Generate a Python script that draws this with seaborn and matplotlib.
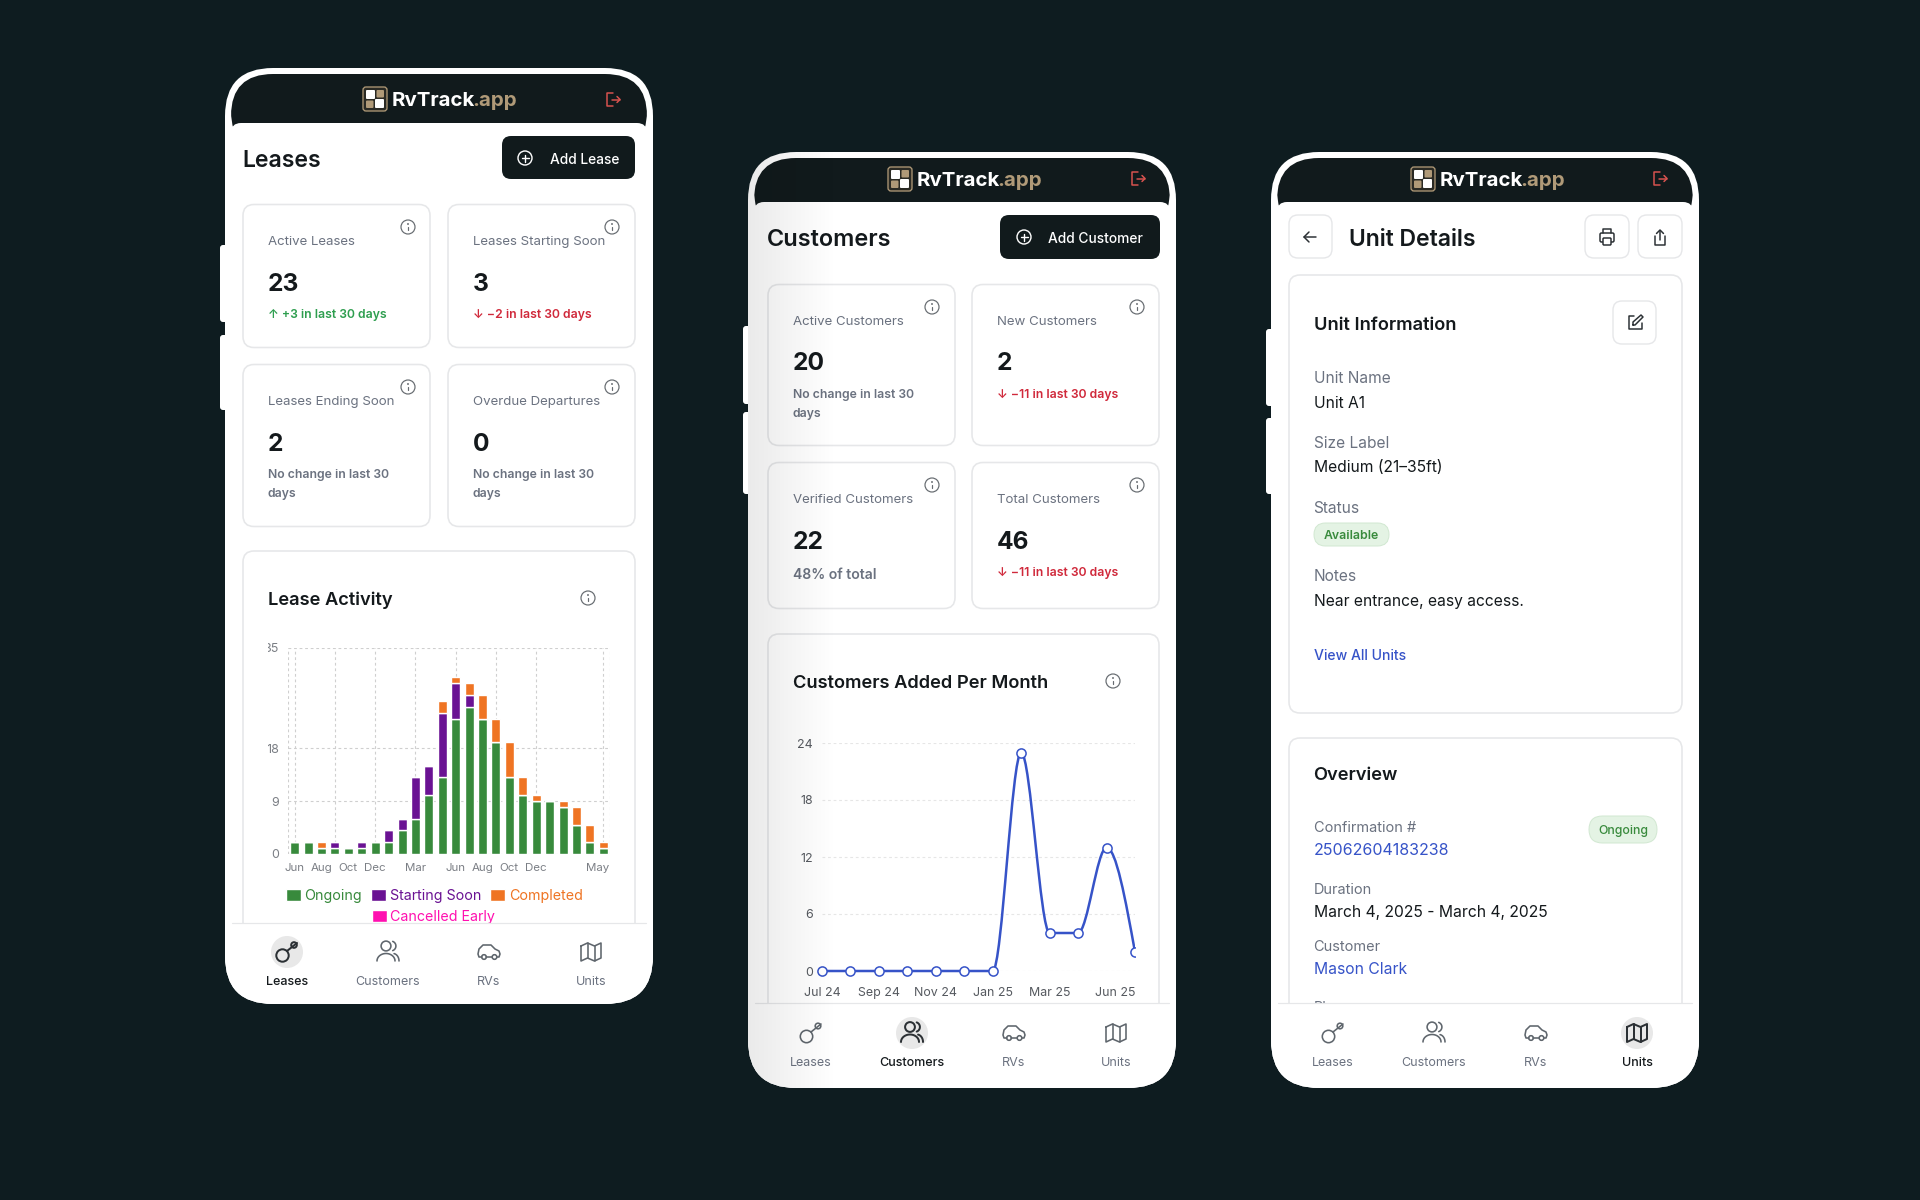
import numpy as np
import matplotlib
matplotlib.use("Agg")
import matplotlib.pyplot as plt
import matplotlib.transforms as mtransforms
from matplotlib.patches import FancyBboxPatch, Rectangle, Circle, Patch, PathPatch
from matplotlib.path import Path
import seaborn as sns

# ---------- chart data ----------
lease_months = ["Jun 23","Jul 23","Aug 23","Sep 23","Oct 23","Nov 23","Dec 23","Jan 24","Feb 24","Mar 24","Apr 24","May 24",
                "Jun 24","Jul 24","Aug 24","Sep 24","Oct 24","Nov 24","Dec 24","Jan 25","Feb 25","Mar 25","Apr 25","May 25"]
ongoing  = [2,2,1,1,1,1,2,2,4,6,10,13,23,25,23,19,13,10,9,9,8,5,2,1]
starting = [0,0,0,1,0,1,0,2,2,7,5,11,6,2,0,0,0,0,0,0,0,0,0,0]
completed= [0,0,1,0,0,0,0,0,0,0,0,2,1,2,4,4,6,3,1,0,1,3,3,1]
lease_tick_idx = [0,2,4,6,9,12,14,16,18,23]
lease_tick_lab = ["Jun","Aug","Oct","Dec","Mar","Jun","Aug","Oct","Dec","May"]
lease_grid_idx = [-0.5,0,3,6,9,12,15,18,23,23.5]
lease_yticks = [0,9,18,35]

cust_idx = list(range(12))
cust_added = [0,0,0,0,0,0,0,23,4,4,13,2]
cust_tick_idx = [0,2,4,6,8,11]
cust_tick_lab = ["Jul 24","Sep 24","Nov 24","Jan 25","Mar 25","Jun 25"]
cust_yticks = [0,6,12,18,24]

# ---------- palette ----------
BG="#0e1c20"; HEAD="#111a1c"; TAN="#b09a78"; GRAY="#6b7280"; DARK="#14191c"; EDGE="#e6e7e9"
GREEN="#388a3c"; PURPLE="#6a1293"; ORANGE="#ef7423"; PINK="#ff10b0"; BLUE="#3653c8"
UP="#2e9e4f"; DOWN="#d0293b"; LOGOUT="#d9534f"

sns.set_theme(style="white")
plt.rcParams["font.family"]=["Inter","DejaVu Sans"]

fig=plt.figure(figsize=(19.2,12),dpi=100,facecolor=BG)
def new_axes(z):
    a=fig.add_axes([0,0,1,1],zorder=z); a.set_xlim(0,1920); a.set_ylim(1200,0); a.axis("off"); a.patch.set_alpha(0); return a
bg=new_axes(0); top=new_axes(5)
renderer=fig.canvas.get_renderer()

def rr(ax,x0,y0,x1,y1,r,fc="white",ec="none",lw=0,z=1):
    p=FancyBboxPatch((x0,y0),x1-x0,y1-y0,boxstyle=f"round,pad=0,rounding_size={r}",fc=fc,ec=ec,lw=lw*.72,zorder=z)
    ax.add_patch(p); return p
def T(ax,x,y,s,px,c=DARK,w="normal",ha="left",z=4):
    return ax.text(x,y,s,fontsize=px*.72,color=c,fontweight=w,ha=ha,va="baseline",zorder=z)
def L(ax,xs,ys,c,lw=1.5,z=4):
    ax.plot(xs,ys,color=c,lw=lw*.72,solid_capstyle="round",solid_joinstyle="round",zorder=z)
def arc(ax,cx,cy,rx,ry,a0,a1,c,lw=1.5,z=4):
    t=np.radians(np.linspace(a0,a1,40)); L(ax,cx+rx*np.cos(t),cy+ry*np.sin(t),c,lw,z)
def circ(ax,cx,cy,r,c,lw=1.5,fc="none",z=4):
    ax.add_patch(Circle((cx,cy),r,fc=fc,ec=c,lw=lw*.72,zorder=z))

def info(ax,cx,cy,c="#666b70"):
    circ(ax,cx,cy,7,c,1.2); L(ax,[cx,cx],[cy-.5,cy+3],c,1.2); circ(ax,cx,cy-3,.5,c,.8,fc=c)
def plus_circle(ax,cx,cy):
    circ(ax,cx,cy,7,"white",1.4); L(ax,[cx-3.5,cx+3.5],[cy,cy],"white",1.4); L(ax,[cx,cx],[cy-3.5,cy+3.5],"white",1.4)
def key(ax,cx,cy,c,lw):
    circ(ax,cx-4.5,cy+3.5,6.2,c,lw); L(ax,[cx,cx+10],[cy-1,cy-9],c,lw); circ(ax,cx+7,cy-7,2.8,c,lw)
def users(ax,cx,cy,c,lw):
    circ(ax,cx-2,cy-6,4.9,c,lw); arc(ax,cx-2,cy+9,9,7.5,180,360,c,lw)
    arc(ax,cx+3,cy-6,4.9,4.9,-70,70,c,lw); arc(ax,cx+5,cy+9,6,7.5,280,360,c,lw)
def car(ax,cx,cy,c,lw):
    L(ax,[cx-7,cx-10,cx-11,cx-10,cx-6,cx+2,cx+6,cx+10,cx+11,cx+10,cx+8],[cy+5,cy+5,cy+2,cy-3,cy-7,cy-7,cy-3,cy-1,cy+2,cy+5,cy+5],c,lw)
    L(ax,[cx-3,cx+3],[cy+5,cy+5],c,lw); circ(ax,cx-5,cy+5,2.3,c,lw); circ(ax,cx+5.5,cy+5,2.3,c,lw)
def umap(ax,cx,cy,c,lw):
    L(ax,[cx-10,cx-3.5,cx+3.5,cx+10,cx+10,cx+3.5,cx-3.5,cx-10,cx-10],[cy-6,cy-9,cy-6,cy-9,cy+6,cy+9,cy+6,cy+9,cy-6],c,lw)
    L(ax,[cx-3.5,cx-3.5],[cy-9,cy+6],c,lw); L(ax,[cx+3.5,cx+3.5],[cy-6,cy+9],c,lw)
def logout(ax,cx,cy):
    L(ax,[cx-1,cx-6.5,cx-6.5,cx-1],[cy-6.5,cy-6.5,cy+6.5,cy+6.5],LOGOUT,1.5)
    L(ax,[cx-2,cx+6.5],[cy,cy],LOGOUT,1.5); L(ax,[cx+3.5,cx+6.5,cx+3.5],[cy-3,cy,cy+3],LOGOUT,1.5)

def logo(ax,x,y):
    s=24
    rr(ax,x,y,x+s,y+s,3,fc="#2a2a24",ec=TAN,lw=1.3,z=3)
    rr(ax,x+3,y+3,x+12,y+12,1,fc="white",z=4); rr(ax,x+12,y+12,x+21,y+21,1,fc="white",z=4)
    rr(ax,x+13.5,y+3,x+21,y+10.5,1,fc=TAN,z=4); rr(ax,x+3,y+13.5,x+10.5,y+21,1,fc=TAN,z=4)
    t=T(ax,x+29,y+19.2,"RvTrack",20.5,"white","bold")
    e=t.get_window_extent(renderer)
    T(ax,e.x1-3.5,y+19.2,".app",20.5,TAN,"bold")

def phone(x0,y0,x1,y1,hy,nav_y,btns,inner):
    for a,b in btns: rr(bg,x0-5,a,x0+4,b,3,z=0.5)
    outer=rr(bg,x0,y0,x1,y1,48,z=1)
    rr(bg,x0+inner,y0+inner,x1-inner,hy+30,42,fc=HEAD,z=1.2)
    rr(bg,x0+inner,hy,x1-inner,hy+60,10,z=1.3)
    bg.add_patch(Rectangle((x0+1,hy+14),x1-x0-2,40,fc="white",ec="none",zorder=1.4))
    nav=Rectangle((x0,nav_y),x1-x0,y1-nav_y,fc="white",ec="none",zorder=1); top.add_patch(nav); nav.set_clip_path(outer)
    L(top,[x0+inner+1,x1-inner-1],[nav_y,nav_y],"#e6e7e9",1.2,z=2)
    return outer

def nav_items(xs,cy,ly,active):
    names=["Leases","Customers","RVs","Units"]; fn=[key,users,car,umap]
    for i,(x,n,f) in enumerate(zip(xs,names,fn)):
        on=i==active
        if on: top.add_patch(Circle((x,cy),16,fc="#e8e8e8",ec="none",zorder=3))
        f(top,x,cy,"#2b3034" if on else "#5f666d",2.0 if on else 1.6)
        T(top,x,ly,n,12.5,DARK if on else GRAY,"medium" if on else "normal",ha="center")

def stat(x0,y0,x1,y1,label,val,lines,col,lb,vb,db,ix,iy,w="semibold",dsize=12.2):
    rr(bg,x0,y0,x1,y1,11,ec=EDGE,lw=1.6,z=2)
    info(bg,ix,iy)
    T(bg,x0+24.7,lb,label,13.25,GRAY); T(bg,x0+24.7,vb,val,24.5,DARK,"bold")
    for i,s in enumerate(lines): T(bg,x0+24.7,db+i*18.5,s,dsize,col,w)

# ---------- phones ----------
p1=phone(225,68,653,1004,123,923,[(245,322),(335,410)],6)
p2=phone(748,152,1176,1088,202,1003,[(326,404),(412,494)],6)
p3=phone(1271,152,1699,1088,202,1003,[(329,406),(418,494)],6)

H2=18.3
# --- Phone 1 ---
logo(bg,363,87); logout(bg,613.5,99.5)
T(bg,242.5,167,"Leases",23,DARK,"semibold")
rr(bg,502,136,635,179,9,fc=HEAD,z=3); plus_circle(bg,525,158); T(bg,550,164,"Add Lease",13.8,"white","medium")
nc="No change in last 30"
stat(243,204.5,430,347.5,"Active Leases","23",["↑ +3 in last 30 days"],UP,245,291,318,408,227)
stat(448,204.5,635,347.5,"Leases Starting Soon","3",["↓ −2 in last 30 days"],DOWN,245,291,318,612,227)
stat(243,364.5,430,526.5,"Leases Ending Soon","2",[nc,"days"],GRAY,405,451,478,408,387)
stat(448,364.5,635,526.5,"Overdue Departures","0",[nc,"days"],GRAY,405,451,478,612,387)
rr(bg,243,551,635,990,11,ec=EDGE,lw=1.6,z=2)
T(bg,268,605,"Lease Activity",H2,DARK,"semibold"); info(bg,588,598)
nav_items([287,388,489,591],952,985,0)

# --- Phone 2 ---
logo(bg,888,167); logout(bg,1138.5,178.5)
T(bg,767,246,"Customers",23.5,DARK,"semibold")
rr(bg,1000,215,1160,259,9,fc=HEAD,z=3); plus_circle(bg,1024,237); T(bg,1048.5,243,"Add Customer",13.8,"white","medium")
stat(768,284.5,955,445.5,"Active Customers","20",[nc,"days"],GRAY,325,370,398,932,307)
stat(972,284.5,1159,445.5,"New Customers","2",["↓ −11 in last 30 days"],DOWN,325,370,398,1137,307)
stat(768,462.5,955,608.5,"Verified Customers","22",["48% of total"],GRAY,503,549,579,932,485,dsize=14)
stat(972,462.5,1159,608.5,"Total Customers","46",["↓ −11 in last 30 days"],DOWN,503,549,576,1137,485)
rr(bg,768,634,1159,1080,11,ec=EDGE,lw=1.6,z=2)
T(bg,793,688,"Customers Added Per Month",H2,DARK,"semibold"); info(bg,1113,681)
nav_items([811,912,1014,1116],1033,1066,1)

# --- Phone 3 ---
logo(bg,1411,167); logout(bg,1660.5,178.5)
for a,b in [(1289,1332),(1585,1629),(1638,1682)]: rr(bg,a,215,b,258,9,ec=EDGE,lw=1.4,z=3)
L(bg,[1304,1316],[237,237],"#2b3034",1.5); L(bg,[1309,1304,1309],[232,237,242],"#2b3034",1.5)
T(bg,1349,246,"Unit Details",23,DARK,"semibold")
c="#2b3034"
rr(bg,1600,233,1614,242,1.5,fc="white",ec=c,lw=1.5,z=4); L(bg,[1603,1603,1611,1611],[233,229,229,233],c,1.5); rr(bg,1603,238,1611,245,1,fc="white",ec=c,lw=1.5,z=5)
L(bg,[1655,1655,1665,1665],[236,245,245,236],c,1.5); L(bg,[1660,1660],[231,240],c,1.5); L(bg,[1656.5,1660,1663.5],[233.5,230,233.5],c,1.5)
rr(bg,1289,275,1682,713,11,ec=EDGE,lw=1.6,z=2)
T(bg,1313.5,330,"Unit Information",H2,DARK,"semibold")
rr(bg,1613,301,1656,344,9,ec=EDGE,lw=1.4,z=3)
L(bg,[1634,1629,1629,1642,1642],[316,316,329,329,323],c,1.5); L(bg,[1633,1633,1641,1643,1635,1633],[325,322,315,317,325,325],c,1.5)
def field(lab,val,lb,vb,col=DARK,ls=15.5,vs=15.6):
    T(bg,1313.5,lb,lab,ls,GRAY); T(bg,1313.5,vb,val,vs,col)
field("Unit Name","Unit A1",383,408)
field("Size Label","Medium (21–35ft)",448,472)
T(bg,1313.5,513,"Status",15.5,GRAY)
rr(bg,1314,523,1389,546,11.5,fc="#e4f3e4",ec="#d2e8d2",lw=1,z=3); T(bg,1351.5,539,"Available",12.3,GREEN,"semibold",ha="center")
field("Notes","Near entrance, easy access.",581,606)
T(bg,1313.5,660,"View All Units",14,BLUE,"medium")
rr(bg,1289,738,1682,1080,11,ec=EDGE,lw=1.6,z=2)
T(bg,1313.5,780,"Overview",H2,DARK,"semibold")
field("Confirmation #","25062604183238",832,855,BLUE,14.5,16)
rr(bg,1589,816,1657,843,13.5,fc="#e4f3e4",ec="#d2e8d2",lw=1,z=3); T(bg,1623,834,"Ongoing",12.3,GREEN,"medium",ha="center")
field("Duration","March 4, 2025 - March 4, 2025",894,917,DARK,14.5,15.7)
field("Customer","Mason Clark",951,974,BLUE,14.5,15.7)
T(bg,1313.5,1012,"Phone",14.5,GRAY)
nav_items([1333,1434,1536,1637],1033,1066,3)

# ---------- charts ----------
def px_axes(x0,y0,x1,y1,z=2):
    a=fig.add_axes([x0/1920,1-y1/1200,(x1-x0)/1920,(y1-y0)/1200],zorder=z); a.patch.set_alpha(0); return a
def shift(lbl,px):
    lbl.set_transform(lbl.get_transform()+mtransforms.ScaledTranslation(px/100,0,fig.dpi_scale_trans))

# Lease activity
a1=px_axes(288,648,610,854)
bot2=np.array(ongoing); bot3=bot2+np.array(starting)
for vals,bot,col in [(ongoing,None,GREEN),(starting,bot2,PURPLE),(completed,bot3,ORANGE)]:
    kw={} if bot is None else {"bottom":bot}
    sns.barplot(x=lease_months,y=vals,color=col,saturation=1,width=.67,errorbar=None,ax=a1,zorder=3,**kw)
a1.set_xlim(-.5,23.5); a1.set_ylim(0,35)
a1.set_xlabel(""); a1.set_ylabel("")
a1.set_xticks(lease_tick_idx); a1.set_xticklabels(lease_tick_lab)
a1.xaxis.remove_overlapping_locs=False
a1.set_xticks(lease_grid_idx,minor=True); a1.set_yticks(lease_yticks)
a1.set_axisbelow(True)
a1.grid(False); a1.grid(True,which="minor",axis="x",color="#cfcfcf",ls=(0,(2.5,2.5)),lw=.8)
a1.grid(True,which="major",axis="y",color="#cfcfcf",ls=(0,(2.5,2.5)),lw=.8)
a1.tick_params(axis="both",which="both",length=0,labelsize=11.5*.72,labelcolor="#7b7f85")
a1.tick_params(axis="x",pad=6.2); a1.tick_params(axis="y",pad=6.5,labelsize=12.5*.72)
for s in a1.spines.values(): s.set_visible(False)
shift(a1.get_xticklabels()[-1],-5.3)
clipbox=Rectangle((268,600),60,300,transform=bg.transData)
for lb in a1.get_yticklabels(): lb.set_clip_path(clipbox); lb.set_clip_on(True)
fs=14.3*.72
h1=[Patch(fc=GREEN,label="Ongoing"),Patch(fc=PURPLE,label="Starting Soon"),Patch(fc=ORANGE,label="Completed")]
leg1=a1.legend(handles=h1,ncol=3,loc="upper left",bbox_to_anchor=(285.5,889),bbox_transform=bg.transData,frameon=False,fontsize=fs,
    handlelength=1.05,handleheight=.9,handletextpad=.27,columnspacing=.62,borderpad=0,borderaxespad=0,labelcolor=[GREEN,PURPLE,ORANGE])
a1.add_artist(leg1)
leg2=a1.legend(handles=[Patch(fc=PINK,label="Cancelled Early")],loc="upper left",bbox_to_anchor=(371.5,910),bbox_transform=bg.transData,frameon=False,fontsize=fs,
    handlelength=1.05,handleheight=.9,handletextpad=.27,borderpad=0,borderaxespad=0,labelcolor=[PINK])

# Customers added
a2=px_axes(822,743,1135,971)
def mono_path(xs,ys):
    xs=np.asarray(xs,float); ys=np.asarray(ys,float)
    h=np.diff(xs); d=np.diff(ys)/h; m=np.zeros_like(xs)
    for i in range(1,len(xs)-1):
        p=(d[i-1]*h[i]+d[i]*h[i-1])/(h[i-1]+h[i])
        m[i]=(np.sign(d[i-1])+np.sign(d[i]))*min(abs(d[i-1]),abs(d[i]),.5*abs(p))
    m[0]=(3*d[0]-m[1])/2; m[-1]=(3*d[-1]-m[-2])/2
    v=[(xs[0],ys[0])]; c=[Path.MOVETO]
    for i in range(len(h)):
        v+=[(xs[i]+h[i]/3,ys[i]+m[i]*h[i]/3),(xs[i+1]-h[i]/3,ys[i+1]-m[i+1]*h[i]/3),(xs[i+1],ys[i+1])]; c+=[Path.CURVE4]*3
    return Path(v,c)
curve=PathPatch(mono_path(cust_idx,cust_added),fc="none",ec=BLUE,lw=2.5*.72,zorder=3)
a2.add_patch(curve)
sns.lineplot(x=cust_idx,y=cust_added,marker="o",linestyle="",markersize=6.6,markerfacecolor="white",markeredgecolor=BLUE,markeredgewidth=1.1,ax=a2,zorder=4,errorbar=None)
a2.set_xlim(0,11); a2.set_ylim(0,24)
a2.set_xticks(cust_tick_idx); a2.set_xticklabels(cust_tick_lab); a2.set_yticks(cust_yticks)
a2.set_axisbelow(True); a2.grid(True,axis="y",color="#e6e6e6",ls=(0,(2.5,2.5)),lw=.8); a2.grid(False,axis="x")
a2.tick_params(axis="both",length=0,labelsize=12.4*.72,labelcolor="#55595f")
a2.tick_params(axis="x",pad=11.5); a2.tick_params(axis="y",pad=6.5)
for s in a2.spines.values(): s.set_visible(False)
shift(a2.get_xticklabels()[-1],-19.7)
# points on the base line and left edge stay whole; the right edge cuts the last one
clip2=Rectangle((800,720),335,280,transform=bg.transData)
curve.set_clip_path(clip2)
for ln in a2.lines:
    ln.set_clip_path(clip2)

# Soft shading on the left of the middle phone
g=np.zeros((1,90,4)); g[0,:,3]=np.linspace(.085,0,90)
im=top.imshow(g,extent=(748,838,1088,152),aspect="auto",zorder=9)
im.set_clip_path(p2)
top.set_xlim(0,1920); top.set_ylim(1200,0)

fig.savefig("out.png",dpi=100,facecolor=BG)
